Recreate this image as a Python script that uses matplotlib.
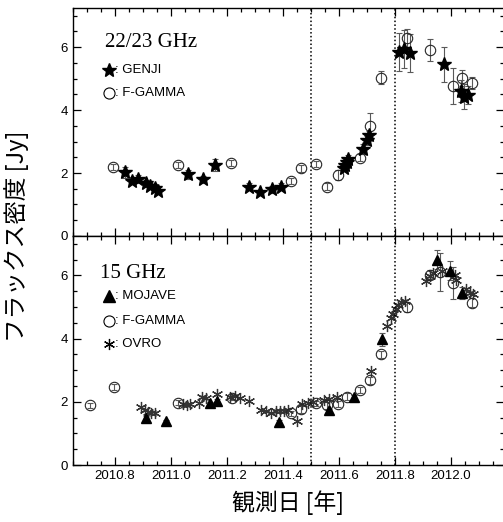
import numpy as np
import matplotlib
matplotlib.use("Agg")
import matplotlib.pyplot as plt
from matplotlib.ticker import MultipleLocator

plt.rcParams['font.family'] = ['Liberation Sans', 'DejaVu Sans']

# 22/23 GHz : F-GAMMA
fg22_t = [2010.794, 2011.024, 2011.215, 2011.430, 2011.463, 2011.518, 2011.558, 2011.596,
          2011.677, 2011.713, 2011.749, 2011.845, 2011.927, 2012.009, 2012.041, 2012.077]
fg22_v = [2.20, 2.25, 2.31, 1.74, 2.15, 2.29, 1.57, 1.94,
          2.49, 3.49, 5.03, 6.28, 5.92, 4.76, 5.03, 4.86]
fg22_e = [0.10, 0.10, 0.10, 0.10, 0.12, 0.10, 0.10, 0.15,
          0.12, 0.43, 0.20, 0.30, 0.35, 0.57, 0.25, 0.20]

# 22 GHz : GENJI
gj_t = [2010.836, 2010.860, 2010.884, 2010.912, 2010.926, 2010.944, 2010.955,
        2011.060, 2011.115, 2011.157, 2011.279, 2011.318, 2011.360, 2011.394,
        2011.618, 2011.623, 2011.628, 2011.633, 2011.685, 2011.700, 2011.706,
        2011.814, 2011.833, 2011.853, 2011.977, 2012.035, 2012.048, 2012.060]
gj_v = [2.02, 1.76, 1.81, 1.67, 1.59, 1.53, 1.44,
        1.96, 1.80, 2.25, 1.57, 1.39, 1.48, 1.57,
        2.15, 2.25, 2.35, 2.43, 2.77, 3.04, 3.20,
        5.85, 5.93, 5.81, 5.45, 4.60, 4.43, 4.48]
gj_e = [0.18, 0.10, 0.12, 0.10, 0.10, 0.10, 0.10,
        0.15, 0.12, 0.20, 0.10, 0.08, 0.10, 0.10,
        0.10, 0.12, 0.12, 0.15, 0.15, 0.15, 0.15,
        0.60, 0.60, 0.60, 0.55, 0.35, 0.40, 0.30]

# 15 GHz : F-GAMMA
fg15_t = [2010.711, 2010.795, 2011.024, 2011.218, 2011.428, 2011.464, 2011.518, 2011.558, 2011.596,
          2011.629, 2011.677, 2011.710, 2011.749, 2011.845, 2011.925, 2011.960, 2012.009, 2012.077]
fg15_v = [1.90, 2.47, 1.98, 2.13, 1.64, 1.76, 1.96, 1.89, 1.94,
          2.17, 2.38, 2.68, 3.50, 5.00, 6.03, 6.10, 5.76, 5.14]
fg15_e = [0.08, 0.10, 0.08, 0.08, 0.08, 0.10, 0.08, 0.10, 0.10,
          0.10, 0.10, 0.12, 0.12, 0.15, 0.15, 0.60, 0.50, 0.15]

# 15 GHz : MOJAVE
mj_t = [2010.912, 2010.982, 2011.138, 2011.166, 2011.386, 2011.564, 2011.653,
        2011.755, 2011.949, 2011.997, 2012.039]
mj_v = [1.50, 1.39, 1.96, 2.04, 1.37, 1.73, 2.17, 3.98, 6.50, 6.15, 5.45]
mj_e = [0.05, 0.05, 0.05, 0.05, 0.05, 0.05, 0.05, 0.20, 0.30, 0.30, 0.20]

# 15 GHz : OVRO
ov_t = [2010.894, 2010.906, 2010.918, 2010.930, 2010.942, 2011.044, 2011.056, 2011.068,
        2011.102, 2011.110, 2011.126, 2011.164, 2011.212, 2011.230, 2011.246, 2011.278,
        2011.322, 2011.338, 2011.356, 2011.374, 2011.390, 2011.404, 2011.418, 2011.452,
        2011.470, 2011.488, 2011.506, 2011.548, 2011.566, 2011.594, 2011.716, 2011.773,
        2011.785, 2011.793, 2011.805, 2011.813, 2011.823, 2011.835, 2011.913, 2011.925,
        2011.937, 2011.967, 2012.014, 2012.020, 2012.056, 2012.068, 2012.080]
ov_v = [1.83, 1.75, 1.68, 1.66, 1.66, 1.92, 1.89, 1.92,
        1.96, 2.15, 2.13, 2.25, 2.15, 2.18, 2.13, 2.02,
        1.75, 1.71, 1.66, 1.71, 1.71, 1.71, 1.75, 1.38,
        1.94, 1.96, 1.99, 2.07, 2.10, 2.15, 2.98, 4.40,
        4.64, 4.79, 4.93, 5.08, 5.17, 5.19, 5.84, 5.97,
        6.08, 6.13, 6.00, 5.87, 5.56, 5.45, 5.40]

vlines = [2011.5, 2011.8]
xticks = [2010.8, 2011.0, 2011.2, 2011.4, 2011.6, 2011.8, 2012.0]

fig = plt.figure(figsize=(5.03, 5.22), dpi=100)
ax1 = fig.add_axes([0.145, 0.548, 0.857, 0.437])
ax2 = fig.add_axes([0.145, 0.109, 0.857, 0.439])

ecol = '0.35'
circ = dict(fmt='o', ms=7.5, mfc='none', mec='0.15', mew=0.8, ecolor=ecol, elinewidth=0.8, capsize=2.5, capthick=0.8)

# top panel
ax1.errorbar(fg22_t, fg22_v, yerr=fg22_e, **circ)
ax1.errorbar(gj_t, gj_v, yerr=gj_e, fmt='*', ms=10.5, color='k', ecolor=ecol, elinewidth=0.8, capsize=2.5, capthick=0.8)

# bottom panel
ax2.errorbar(fg15_t, fg15_v, yerr=fg15_e, **circ)
ax2.plot(ov_t, ov_v, ls='none', marker=(6, 2, 0), ms=8, mew=0.9, color='0.2')
ax2.errorbar(mj_t, mj_v, yerr=mj_e, fmt='^', ms=7.5, color='k', ecolor=ecol, elinewidth=0.8, capsize=2.5, capthick=0.8)

for ax in (ax1, ax2):
    for xv in vlines:
        ax.axvline(xv, color='k', ls=(0, (1, 1.5)), lw=1.1)
    ax.set_xlim(2010.65, 2012.19)
    ax.set_ylim(0, 7.25)
    ax.set_xticks(xticks)
    ax.xaxis.set_minor_locator(MultipleLocator(0.05))
    ax.yaxis.set_major_locator(MultipleLocator(2))
    ax.yaxis.set_minor_locator(MultipleLocator(0.5))
    ax.tick_params(which='both', direction='in', top=True, right=True, labelsize=9.5, width=0.9)
    ax.tick_params(which='major', length=6)
    ax.tick_params(which='minor', length=3)
    for s in ax.spines.values():
        s.set_linewidth(1.0)

ax1.tick_params(labelbottom=False)
ax2.set_xticklabels(['%.1f' % x for x in xticks])

# legends drawn by hand
ax1.text(0.074, 0.85, '22/23 GHz', transform=ax1.transAxes, family='Liberation Serif', fontsize=15, va='center')
ax1.plot([0.084], [0.728], transform=ax1.transAxes, marker='*', ms=10.5, color='k', ls='none')
ax1.text(0.097, 0.728, ': GENJI', transform=ax1.transAxes, fontsize=9.5, va='center')
ax1.plot([0.084], [0.627], transform=ax1.transAxes, marker='o', ms=8, mfc='none', mec='k', mew=0.8, ls='none')
ax1.text(0.097, 0.627, ': F-GAMMA', transform=ax1.transAxes, fontsize=9.5, va='center')

ax2.text(0.063, 0.837, '15 GHz', transform=ax2.transAxes, family='Liberation Serif', fontsize=15, va='center')
ax2.plot([0.084], [0.736], transform=ax2.transAxes, marker='^', ms=8, color='k', ls='none')
ax2.text(0.097, 0.736, ': MOJAVE', transform=ax2.transAxes, fontsize=9.5, va='center')
ax2.plot([0.084], [0.631], transform=ax2.transAxes, marker='o', ms=8, mfc='none', mec='k', mew=0.8, ls='none')
ax2.text(0.097, 0.631, ': F-GAMMA', transform=ax2.transAxes, fontsize=9.5, va='center')
ax2.plot([0.084], [0.527], transform=ax2.transAxes, marker=(6, 2, 0), ms=8, mew=0.9, color='k', ls='none')
ax2.text(0.097, 0.527, ': OVRO', transform=ax2.transAxes, fontsize=9.5, va='center')

cjk = ['Noto Sans CJK JP', 'DejaVu Sans']
ax2.set_xlabel('観測日 [年]', family=cjk, fontsize=16.5, labelpad=6)
fig.text(0.032, 0.548, 'フラックス密度 [Jy]', family=cjk, fontsize=17, rotation=90, ha='center', va='center')

fig.savefig('out.png', dpi=100)
